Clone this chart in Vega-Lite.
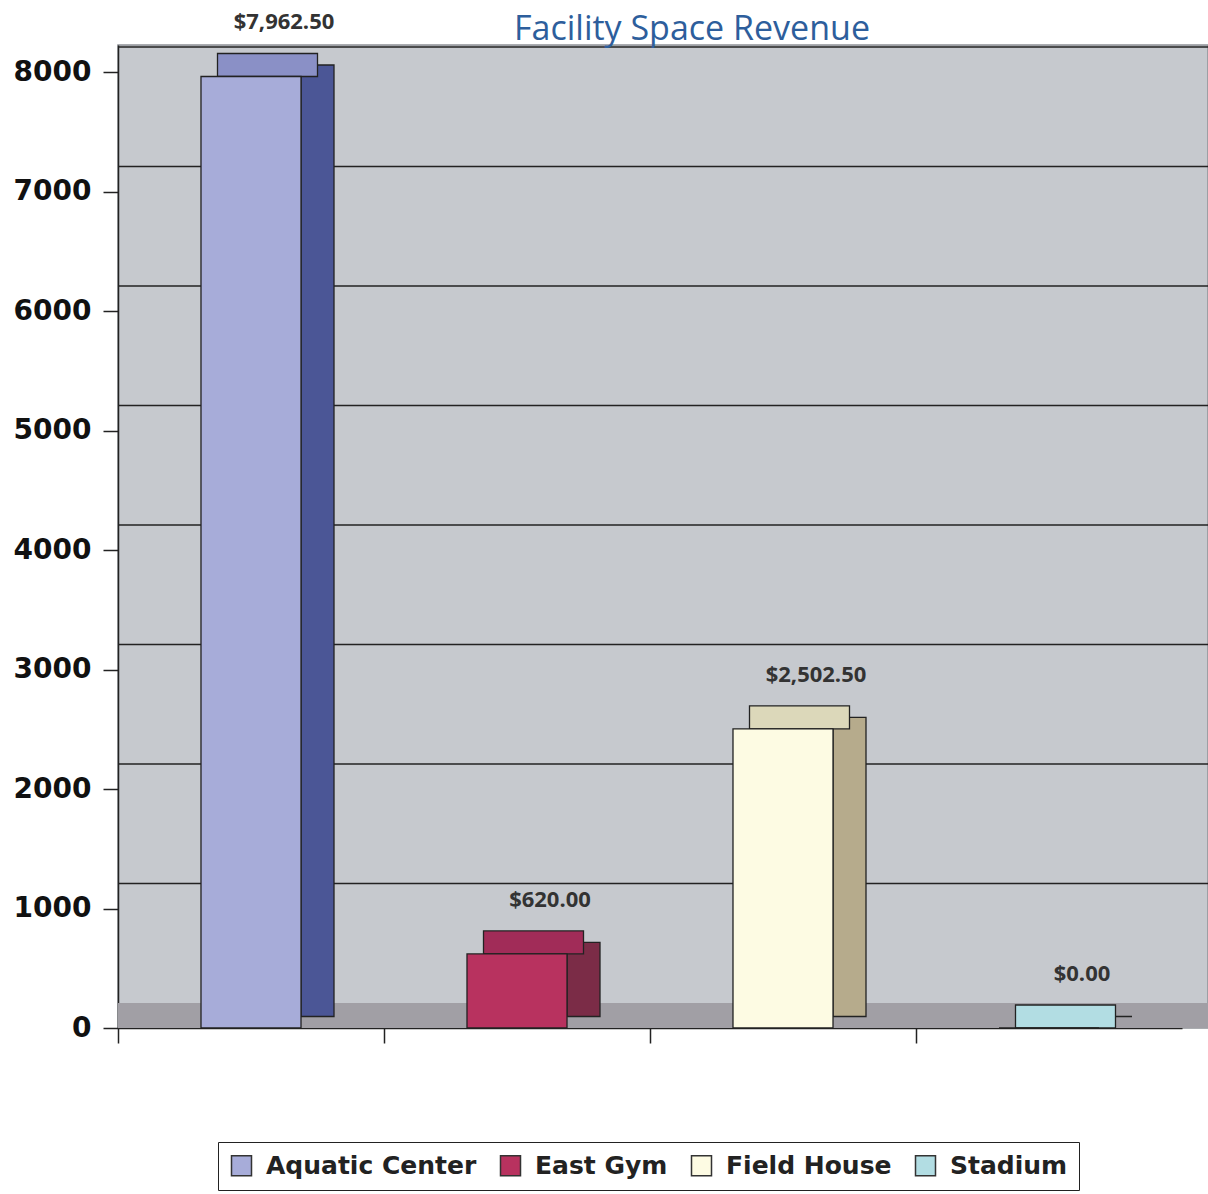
{
  "$schema": "https://vega.github.io/schema/vega-lite/v6.json",
  "autosize": "none",
  "padding": {"left": 118, "top": 45, "right": 0, "bottom": 166},
  "width": 1090,
  "height": 983,
  "background": "white",
  "title": {"text": "Facility Space Revenue", "font": "Open Sans", "fontSize": 34, "fontWeight": "normal", "color": "#2d5e9c", "anchor": "middle", "dx": 29, "offset": -63, "baseline": "alphabetic"},
  "config": {
    "view": {"fill": "#c6c9ce", "stroke": "#8f9196", "strokeWidth": 1.5},
    "axisY": {"labelFont": "DejaVu Sans", "labelFontSize": 28, "labelFontWeight": "bold", "labelColor": "#111", "tickSize": 15, "labelPadding": 12, "tickColor": "#222", "domainColor": "#222", "tickWidth": 1.5, "domainWidth": 1.5, "grid": false, "title": null},
    "axisX": {"labels": false, "tickSize": 15, "bandPosition": 0, "tickColor": "#222", "domainColor": "#222", "tickWidth": 1.5, "domainWidth": 1.5, "grid": false, "title": null},
    "legend": {"orient": "none", "legendX": 100, "legendY": 1097, "direction": "horizontal", "columns": 4, "title": null, "symbolType": "square", "symbolSize": 400, "symbolStrokeColor": "#333", "symbolStrokeWidth": 1.5, "symbolOpacity": 1, "labelFont": "DejaVu Sans", "labelFontWeight": "bold", "labelFontSize": 25, "labelColor": "#222", "labelOffset": 12, "columnPadding": 20, "padding": 11, "strokeColor": "#222", "fillColor": "white", "labelLimit": 400}
  },
  "datasets": {
    "revenue": [
      {"facility": "Aquatic Center", "revenue": 7962.5},
      {"facility": "East Gym", "revenue": 620.0},
      {"facility": "Field House", "revenue": 2502.5},
      {"facility": "Stadium", "revenue": 0.0}
    ],
    "grid": [
      {"level": 1000}, {"level": 2000}, {"level": 3000}, {"level": 4000},
      {"level": 5000}, {"level": 6000}, {"level": 7000}, {"level": 8000}
    ]
  },
  "layer": [
    {
      "data": {"name": "grid"},
      "mark": {"type": "rule", "stroke": "#222", "strokeWidth": 1.5, "yOffset": -25},
      "encoding": {
        "y": {"field": "level", "type": "quantitative", "scale": {"domain": [0, 8226], "nice": false, "zero": true}, "axis": {"title": null, "values": [0, 1000, 2000, 3000, 4000, 5000, 6000, 7000, 8000], "format": "d"}}
      }
    },
    {
      "data": {"name": "revenue"},
      "mark": {"type": "rect", "fill": "#a19fa5"},
      "encoding": {
        "x": {"value": 0},
        "x2": {"value": "width"},
        "y": {"datum": 0, "type": "quantitative", "axis": {"title": null, "values": [0, 1000, 2000, 3000, 4000, 5000, 6000, 7000, 8000], "format": "d"}},
        "y2": {"datum": 210}
      }
    },
    {
      "data": {"name": "revenue"},
      "mark": {"type": "bar", "width": 33, "xOffset": 66.5, "yOffset": -11.5, "stroke": "#222", "strokeWidth": 1.3},
      "encoding": {
        "x": {"field": "facility", "type": "nominal", "sort": null, "scale": {"range": [0, 1064], "paddingInner": 0, "paddingOuter": 0}},
        "y": {"field": "revenue", "type": "quantitative", "axis": {"title": null, "values": [0, 1000, 2000, 3000, 4000, 5000, 6000, 7000, 8000], "format": "d"}},
        "color": {"field": "facility", "type": "nominal", "scale": {"domain": ["Aquatic Center", "East Gym", "Field House", "Stadium"], "range": ["#4b5696", "#7b2c47", "#b6ab8c", "#8fbcc2"]}, "legend": null}
      }
    },
    {
      "data": {"name": "revenue"},
      "mark": {"type": "tick", "size": 100, "thickness": 23, "xOffset": 16.5, "yOffset": -11.5, "stroke": "#222", "strokeWidth": 1.3, "opacity": 1},
      "encoding": {
        "x": {"field": "facility", "type": "nominal", "sort": null},
        "y": {"field": "revenue", "type": "quantitative", "axis": {"title": null, "values": [0, 1000, 2000, 3000, 4000, 5000, 6000, 7000, 8000], "format": "d"}},
        "color": {"field": "facility", "type": "nominal", "scale": {"domain": ["Aquatic Center", "East Gym", "Field House", "Stadium"], "range": ["#8a90c6", "#a12c58", "#dcd8ba", "#b2dde3"]}, "legend": null}
      }
    },
    {
      "data": {"name": "revenue"},
      "mark": {"type": "bar", "width": {"band": 0.376}, "stroke": "#222", "strokeWidth": 1.3},
      "encoding": {
        "x": {"field": "facility", "type": "nominal", "sort": null},
        "y": {"field": "revenue", "type": "quantitative", "axis": {"title": null, "values": [0, 1000, 2000, 3000, 4000, 5000, 6000, 7000, 8000], "format": "d"}},
        "color": {"field": "facility", "type": "nominal", "scale": {"domain": ["Aquatic Center", "East Gym", "Field House", "Stadium"], "range": ["#a7acd9", "#b8325f", "#fdfbe3", "#b2dde3"]}}
      }
    },
    {
      "data": {"name": "revenue"},
      "mark": {"type": "text", "font": "Open Sans", "fontWeight": "bold", "fontSize": 22, "color": "#333", "xOffset": 33, "yOffset": -54, "baseline": "middle", "align": "center"},
      "encoding": {
        "x": {"field": "facility", "type": "nominal", "sort": null},
        "y": {"field": "revenue", "type": "quantitative", "axis": {"title": null, "values": [0, 1000, 2000, 3000, 4000, 5000, 6000, 7000, 8000], "format": "d"}},
        "text": {"field": "revenue", "type": "quantitative", "format": "$,.2f"}
      }
    }
  ],
  "resolve": {"scale": {"color": "independent"}}
}
